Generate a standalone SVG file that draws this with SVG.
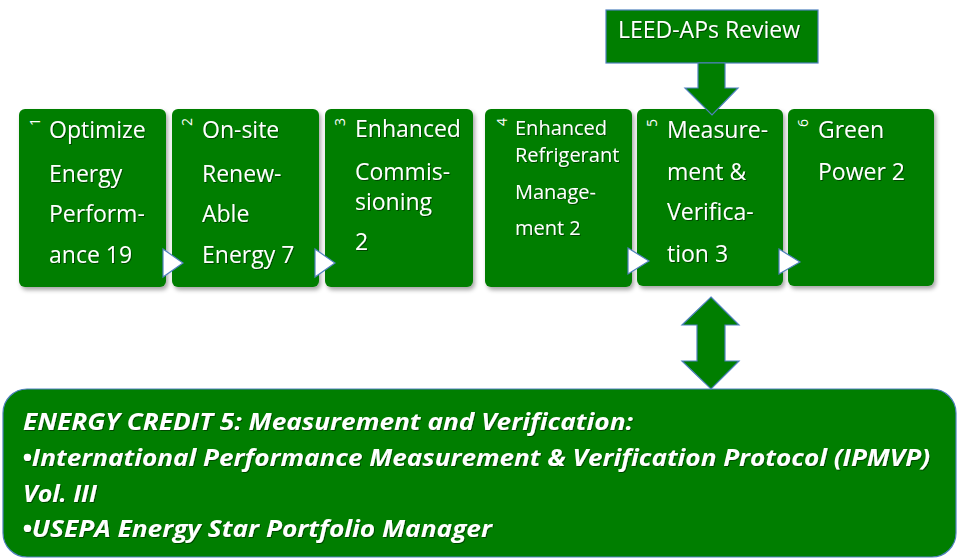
<svg xmlns="http://www.w3.org/2000/svg" width="957" height="559" viewBox="0 0 957 559">
<defs>
<filter id="sh" x="-10%" y="-10%" width="130%" height="130%">
<feDropShadow dx="2" dy="3" stdDeviation="2" flood-color="#000" flood-opacity="0.35"/>
</filter>
<filter id="tsh" x="-5%" y="-20%" width="110%" height="150%">
<feDropShadow dx="1" dy="1" stdDeviation="0.6" flood-color="#000" flood-opacity="0.45"/>
</filter>
</defs>
<style>
.box{fill:#007e00;filter:url(#sh);}
.bord{fill:#007e00;stroke:#4f81bd;stroke-width:1.2;}
.t{font-family:"Open Sans","Liberation Sans",sans-serif;font-size:23px;fill:#fff;filter:url(#tsh);}
.s{font-size:20px;}
.n{font-family:"Open Sans","Liberation Sans",sans-serif;font-size:14px;fill:#fff;}
.b{font-family:"Open Sans","Liberation Sans",sans-serif;font-size:24px;font-weight:bold;font-style:italic;fill:#fff;filter:url(#tsh);}
.tri{fill:#fff;stroke:#4f81bd;stroke-width:1.2;}
.arr{fill:#007e00;stroke:#4f81bd;stroke-width:1.2;}
</style>

<g id="node-leed">
<rect class="bord" x="606" y="10" width="212" height="53"/>
<text class="t" x="709" y="38" text-anchor="middle">LEED-APs Review</text>
</g>

<g id="node-1">
<rect class="box" x="19" y="109" width="147" height="178" rx="6"/>
<text class="n" x="40" y="126" rotate="-90">1</text>
<text class="t" x="49" y="138">Optimize</text>
<text class="t" x="49" y="182">Energy</text>
<text class="t" x="49" y="222">Perform-</text>
<text class="t" x="49" y="263">ance 19</text>
</g>

<g id="node-2">
<rect class="box" x="172" y="109" width="147" height="178" rx="6"/>
<text class="n" x="192" y="126" rotate="-90">2</text>
<text class="t" x="202" y="138">On-site</text>
<text class="t" x="202" y="182">Renew-</text>
<text class="t" x="202" y="222">Able</text>
<text class="t" x="202" y="263">Energy 7</text>
</g>

<g id="node-3">
<rect class="box" x="325" y="109" width="148" height="178" rx="6"/>
<text class="n" x="345" y="126" rotate="-90">3</text>
<text class="t" x="355" y="137">Enhanced</text>
<text class="t" x="355" y="180">Commis-</text>
<text class="t" x="355" y="210">sioning</text>
<text class="t" x="355" y="250">2</text>
</g>

<g id="node-4">
<rect class="box" x="485" y="109" width="147" height="178" rx="6"/>
<text class="n" x="507" y="126" rotate="-90">4</text>
<text class="t s" x="515" y="135">Enhanced</text>
<text class="t s" x="515" y="162">Refrigerant</text>
<text class="t s" x="515" y="199">Manage-</text>
<text class="t s" x="515" y="235">ment 2</text>
</g>

<g id="node-5">
<rect class="box" x="637" y="109" width="146" height="177" rx="6"/>
<text class="n" x="657" y="127" rotate="-90">5</text>
<text class="t" x="667" y="138">Measure-</text>
<text class="t" x="667" y="180">ment &amp;</text>
<text class="t" x="667" y="220">Verifica-</text>
<text class="t" x="667" y="262">tion 3</text>
</g>

<g id="node-6">
<rect class="box" x="788" y="109" width="146" height="177" rx="6"/>
<text class="n" x="808" y="127" rotate="-90">6</text>
<text class="t" x="818" y="138">Green</text>
<text class="t" x="818" y="180">Power 2</text>
</g>

<g id="node-credit">
<rect class="bord" x="3" y="389" width="953" height="168" rx="24"/>
<text class="b" x="23" y="430" textLength="610" lengthAdjust="spacingAndGlyphs">ENERGY CREDIT 5: Measurement and Verification:</text>
<text class="b" x="22" y="466" textLength="908" lengthAdjust="spacingAndGlyphs">•International Performance Measurement &amp; Verification Protocol (IPMVP)</text>
<text class="b" x="23" y="502" textLength="74" lengthAdjust="spacingAndGlyphs">Vol. III</text>
<text class="b" x="22" y="537" textLength="470" lengthAdjust="spacingAndGlyphs">•USEPA Energy Star Portfolio Manager</text>
</g>

<g id="connectors">
<polygon class="tri" points="163,249 183,263 163,277"/>
<polygon class="tri" points="315,249 335,263 315,277"/>
<polygon class="tri" points="628,248 649,261 628,274"/>
<polygon class="tri" points="779,249 800,262 779,274"/>
<polygon class="arr" points="698,63 725,63 725,88 738,88 712,115 685,88 698,88"/>
<polygon class="arr" points="711,297 739,325 725,325 725,361 739,361 711,389 682,361 697,361 697,325 682,325"/>
</g>
</svg>
